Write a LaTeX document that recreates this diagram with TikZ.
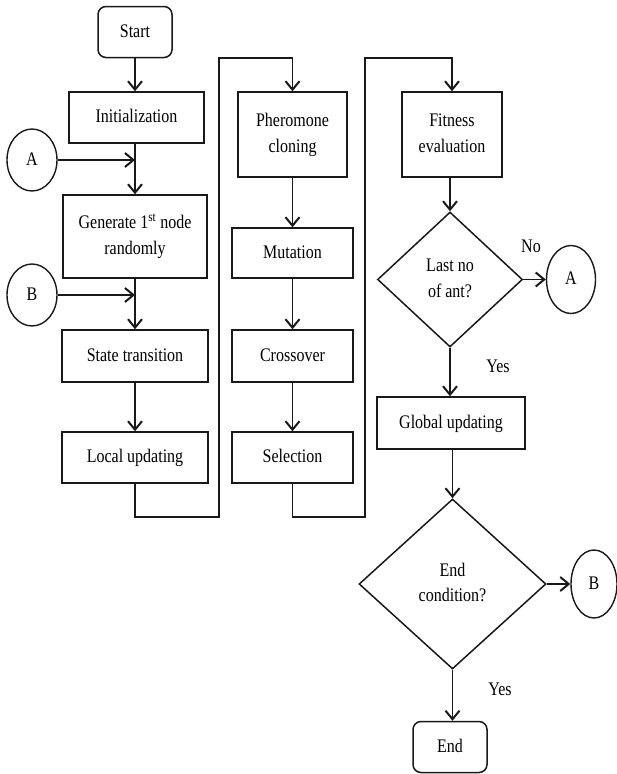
\documentclass[tikz,border=0pt]{standalone}
\usepackage{fontspec}
\setmainfont{Liberation Serif}
\usepackage{graphicx}
\usepackage{tikz}
\usetikzlibrary{arrows.meta,positioning,shapes.geometric}
\definecolor{fcLine}{RGB}{25,25,25}
% text set a little taller than wide, as in the scan
\newcommand\ftext[1]{\scalebox{1}[1.2]{\begin{tabular}{@{}c@{}}#1\end{tabular}}}

\begin{document}
\begin{tikzpicture}[x=1pt, y=-1pt, font=\fontsize{16}{21}\selectfont,
  procbox/.style={draw=fcLine, line width=1.5pt, align=center, inner sep=2pt},
  termbox/.style={procbox, rounded corners=8pt, minimum width=74pt, minimum height=51pt},
  decbox/.style={draw=fcLine, line width=1.5pt, diamond, align=center, inner sep=1pt},
  joint/.style={draw=fcLine, line width=1.4pt, ellipse, inner sep=0pt},
  flow/.style={draw=fcLine, line width=1.6pt, -{Straight Barb[length=8.5pt,width=14pt,line width=2pt]}}]
\useasboundingbox (0,0) rectangle (617,774);

% column 1
\node[termbox] (start) at (135,32) {\ftext{Start}};
\node[procbox, minimum width=135pt, minimum height=51pt] (init) at (136.5,117.5) {\ftext{Initialization}};
\node[procbox, minimum width=144pt, minimum height=83pt] (gen) at (135,236.5) {\ftext{Generate 1\textsuperscript{st} node\\randomly}};
\node[procbox, minimum width=146pt, minimum height=52pt] (state) at (135,356) {\ftext{State transition}};
\node[procbox, minimum width=146pt, minimum height=51pt] (local) at (135,457.5) {\ftext{Local updating}};
\node[joint, minimum width=50pt, minimum height=62pt] (ca) at (32,160) {\ftext{A}};
\node[joint, minimum width=50pt, minimum height=62pt] (cb) at (32,295) {\ftext{B}};

% column 2
\node[procbox, minimum width=109pt, minimum height=85pt] (phero) at (292.5,134.5) {\ftext{Pheromone\\cloning}};
\node[procbox, minimum width=121pt, minimum height=50pt] (mut) at (292.5,253) {\ftext{Mutation}};
\node[procbox, minimum width=121pt, minimum height=52pt] (cross) at (292.5,356) {\ftext{Crossover}};
\node[procbox, minimum width=121pt, minimum height=51pt] (sel) at (292.5,457.5) {\ftext{Selection}};

% column 3
\node[procbox, minimum width=100pt, minimum height=85pt] (fit) at (452,134.5) {\ftext{Fitness\\evaluation}};
\node[decbox, minimum width=145pt, minimum height=135pt] (last) at (450,279.5) {\ftext{Last no\\of ant?}};
\node[joint, minimum width=49pt, minimum height=68pt] (ca2) at (571,279.5) {\ftext{A}};
\node[procbox, minimum width=148pt, minimum height=52pt] (glob) at (451,423) {\ftext{Global updating}};
\node[decbox, minimum width=187pt, minimum height=170pt] (endc) at (452.5,584) {\ftext{End\\condition?}};
\node[joint, minimum width=46pt, minimum height=68pt] (cb2) at (594,584) {\ftext{B}};
\node[termbox] (fin) at (450,747) {\ftext{End}};

% labels
\node (lno) at (531,247) {\ftext{No}};
\node (lyes1) at (498,367) {\ftext{Yes}};
\node (lyes2) at (500,690) {\ftext{Yes}};

% bends
\coordinate (b1) at (219,517);
\coordinate (t1) at (219,58);
\coordinate (b2) at (365,517);
\coordinate (t2) at (365,58);

% connectors
\draw[flow] (start.south) -- (start.south |- init.north);
\draw[flow] (init.south -| gen.north) -- (gen.north);
\draw[flow] (ca.east) -- (ca -| gen.north);
\draw[flow] (gen) -- (state);
\draw[flow] (cb.east) -- (cb -| state.north);
\draw[flow] (state) -- (local);
\draw[flow] (local.south) |- (b1) -- (t1) -| (phero.north);
\draw[flow] (phero) -- (mut);
\draw[flow] (mut) -- (cross);
\draw[flow] (cross) -- (sel);
\draw[flow] (sel.south) |- (b2) -- (t2) -| (fit.north);
\draw[flow] (fit.south -| last.north) -- (last.north);
\draw[flow] (last.east) -- (ca2.west);
\draw[flow] (last.south) -- (last.south |- glob.north);
\draw[flow] (glob.south -| endc.north) -- (endc.north);
\draw[flow] (endc.east) -- (cb2.west);
\draw[flow] (endc.south) -- (endc.south |- fin.north);
\end{tikzpicture}
\end{document}
